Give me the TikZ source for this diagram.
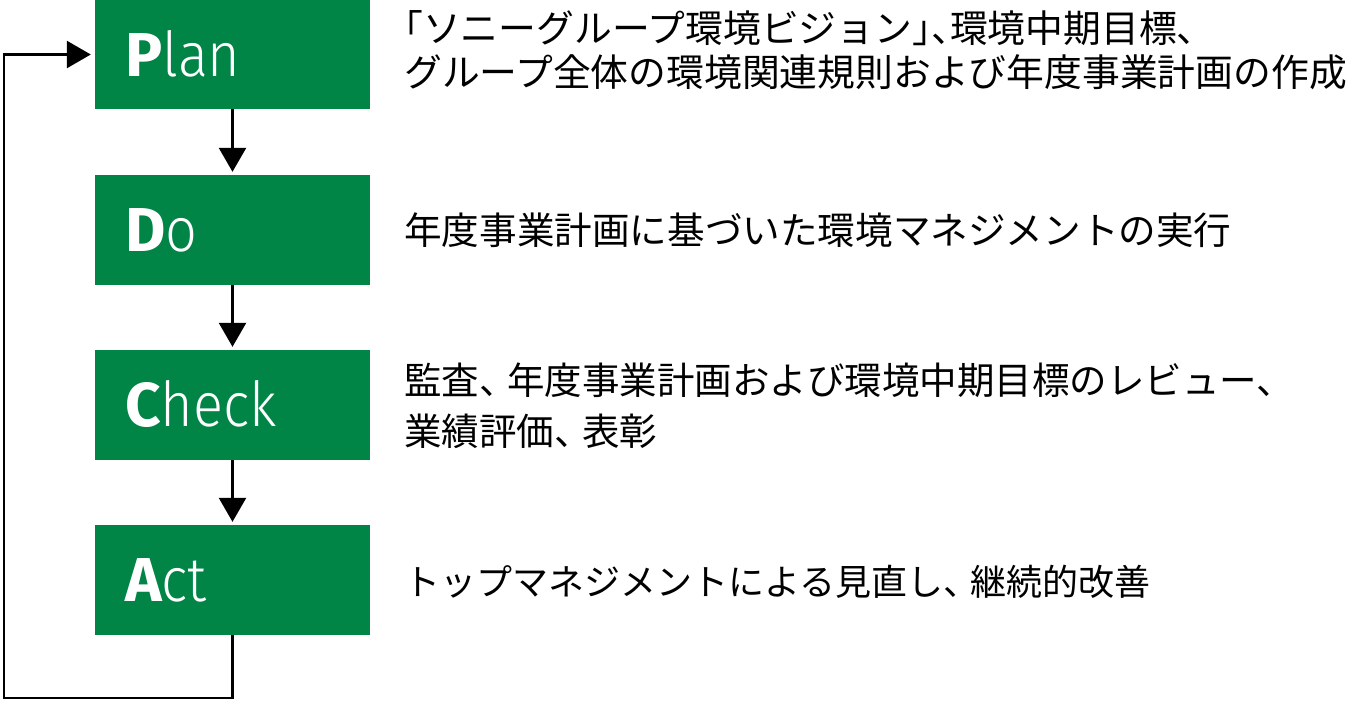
\documentclass[tikz,border=0pt]{standalone}
\usepackage{fontspec}
\usetikzlibrary{arrows.meta}
\newfontfamily\jpfont{Noto Sans CJK JP}
\newfontfamily\lightfont[FakeStretch=0.9]{Fira Sans Light}
\newfontfamily\heavyfont{Fira Sans Bold}
\definecolor{pdcagreen}{RGB}{0,133,71}
\newcommand\tenmid{\makebox[0.75em][l]{、}}
\newcommand\halfp[1]{{\addfontfeature{RawFeature=+halt}#1}}
\begin{document}
\begin{tikzpicture}[x=1pt,y=-1pt,
  pdcabox/.style={rectangle, fill=pdcagreen, draw=none, minimum width=275pt, minimum height=110pt, inner sep=0pt},
  pdcalabel/.style={anchor=base west, inner sep=0pt, text=white, font=\lightfont\fontsize{62}{62}\selectfont},
  desc/.style={anchor=west, inner sep=0pt, align=left, text=black},
  flowarrow/.style={line width=2.6pt, draw=black, -{Triangle[width=27pt,length=24pt]}, shorten >=3pt}
]
\useasboundingbox (0,0) rectangle (1360,705);

\node[pdcabox, minimum height=109pt] (plan) at (232.5,54.5) {};
\node[pdcabox] (do) at (232.5,230) {};
\node[pdcabox] (check) at (232.5,405) {};
\node[pdcabox] (act) at (232.5,580) {};

\node[pdcalabel] (planlbl) at (125,76) {{\heavyfont P}lan};
\node[pdcalabel] (dolbl) at (125,251.5) {{\heavyfont D}o};
\node[pdcalabel] (checklbl) at (125,426.5) {{\heavyfont C}heck};
\node[pdcalabel] (actlbl) at (125,601.5) {{\heavyfont A}ct};

\draw[flowarrow] (plan.south) -- (do.north);
\draw[flowarrow] (do.south) -- (check.north);
\draw[flowarrow] (check.south) -- (act.north);

\coordinate (loopbottom) at (232.5,698);
\coordinate (looptop) at (4,54.5);
\draw[flowarrow, shorten >=4pt] (act.south) -- (loopbottom) -| (looptop) -- (plan.west);

\node[desc, font=\jpfont\fontsize{37.8}{44}\selectfont] (plantext) at (404,50)
  {\halfp{「}ソニーグループ環境ビジョン\halfp{」、}環境中期目標、\\グループ全体の環境関連規則および年度事業計画の作成};
\node[desc, font=\jpfont\fontsize{37.6}{45}\selectfont] (dotext) at (404,230)
  {年度事業計画に基づいた環境マネジメントの実行};
\node[desc, font=\jpfont\fontsize{37.5}{51}\selectfont] (checktext) at (404,406)
  {監査\tenmid 年度事業計画および環境中期目標のレビュー、\\業績評価\tenmid 表彰};
\node[desc, font=\jpfont\fontsize{36}{45}\selectfont] (acttext) at (404,582)
  {トップマネジメントによる見直し\tenmid 継続的改善};
\end{tikzpicture}
\end{document}
